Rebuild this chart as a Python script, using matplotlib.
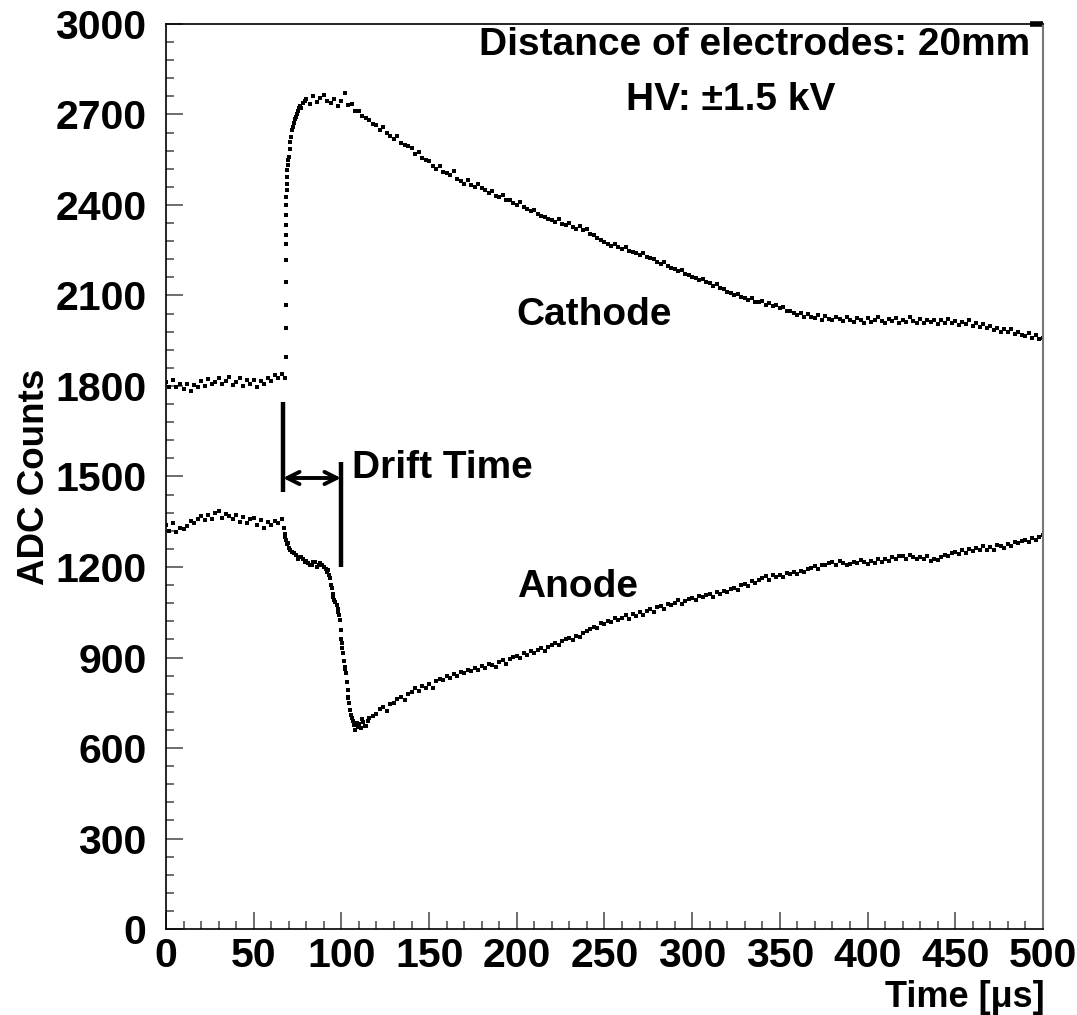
import numpy as np
import matplotlib
matplotlib.use("Agg")
import matplotlib.pyplot as plt

plt.rcParams['font.family'] = ['Liberation Sans', 'DejaVu Sans']

# ---------------- data ----------------
# main sampling grid: every 2 us from 0 to 500
grid_t = np.arange(0, 501, 2)

cathode_v = [
    1812, 1795, 1820, 1798, 1806,  1790, 1808, 1782, 1803, 1795,
    1815, 1800, 1822, 1805, 1813,  1826, 1808, 1818, 1830, 1804,
    1812, 1825, 1800, 1819, 1808,  1820, 1798, 1815, 1806, 1825,
    1818, 1835, 1828, 1840, 1826,  2560, 2648, 2690, 2722, 2738,
    2752, 2735, 2760, 2742, 2755,  2765, 2745, 2738, 2750, 2728,
    2745, 2770, 2730, 2735, 2712,  2710, 2695, 2688, 2680, 2670,
    2665, 2650, 2658, 2638, 2630,  2618, 2630, 2605, 2600, 2595,
    2590, 2570, 2575, 2555, 2548,  2545, 2530, 2520, 2528, 2510,
    2505, 2498, 2512, 2485, 2480,  2470, 2482, 2465, 2460, 2468,
    2455, 2448, 2440, 2445, 2430,  2425, 2432, 2415, 2418, 2405,
    2400, 2410, 2392, 2388, 2380,  2382, 2370, 2365, 2360, 2355,
    2350, 2345, 2352, 2338, 2335,  2340, 2328, 2322, 2330, 2318,
    2320, 2305, 2300, 2290, 2285,  2278, 2270, 2265, 2272, 2260,
    2255, 2262, 2248, 2245, 2240,  2235, 2242, 2228, 2225, 2220,
    2212, 2205, 2210, 2198, 2192,  2188, 2180, 2185, 2170, 2168,
    2162, 2158, 2150, 2155, 2145,  2140, 2132, 2138, 2125, 2120,
    2112, 2108, 2100, 2105, 2095,  2092, 2085, 2090, 2080, 2078,
    2082, 2070, 2075, 2065, 2068,  2058, 2062, 2050, 2048, 2042,
    2035, 2042, 2030, 2038, 2028,  2025, 2035, 2020, 2032, 2022,
    2018, 2030, 2022, 2015, 2028,  2020, 2012, 2025, 2018, 2010,
    2025, 2012, 2020, 2030, 2015,  2010, 2022, 2015, 2025, 2008,
    2020, 2012, 2028, 2015, 2010,  2022, 2008, 2018, 2012, 2020,
    2005, 2018, 2010, 2022, 2008,  2015, 2002, 2012, 2005, 2018,
    2000, 2010, 1995, 2005, 1992,  1998, 1985, 1992, 1980, 1988,
    1978, 1990, 1972, 1980, 1968,  1965, 1975, 1958, 1968, 1955,
    1960,
]

anode_v = [
    1338, 1320, 1345, 1315, 1328,  1325, 1335, 1352, 1345, 1360,
    1370, 1355, 1372, 1360, 1378,  1385, 1362, 1375, 1368, 1360,
    1372, 1350, 1365, 1345, 1358,  1362, 1340, 1355, 1330, 1348,
    1340, 1352, 1345, 1358, 1300,  1262, 1250, 1240, 1232, 1225,
    1220, 1208, 1215, 1200, 1212,  1200, 1185, 1140, 1092, 1050,
    960, 870, 770, 700, 678,       680, 695, 672, 700, 705,
    712, 728, 735, 722, 745,       750, 762, 770, 758, 780,
    785, 798, 790, 805, 800,       812, 800, 822, 830, 825,
    840, 832, 845, 838, 852,       848, 858, 855, 865, 860,
    872, 865, 880, 875, 870,       885, 892, 880, 895, 902,
    905, 898, 915, 908, 920,       915, 925, 930, 922, 935,
    940, 948, 942, 955, 960,       965, 958, 972, 968, 980,
    988, 995, 1002, 998, 1015,     1012, 1022, 1018, 1030, 1025,
    1032, 1040, 1028, 1045, 1038,  1050, 1042, 1055, 1060, 1052,
    1068, 1072, 1062, 1078, 1075,  1082, 1090, 1078, 1088, 1095,
    1098, 1090, 1105, 1100, 1108,  1110, 1102, 1118, 1112, 1120,
    1118, 1128, 1132, 1125, 1140,  1145, 1138, 1152, 1148, 1158,
    1165, 1170, 1158, 1172, 1168,  1175, 1168, 1180, 1176, 1182,
    1178, 1188, 1185, 1192, 1198,  1202, 1195, 1208, 1205, 1212,
    1215, 1208, 1220, 1212, 1205,  1210, 1218, 1212, 1222, 1215,
    1210, 1220, 1214, 1225, 1218,  1228, 1220, 1232, 1225, 1238,
    1235, 1228, 1240, 1232, 1225,  1232, 1225, 1238, 1220, 1228,
    1222, 1232, 1240, 1235, 1248,  1250, 1242, 1255, 1248, 1260,
    1252, 1262, 1258, 1268, 1255,  1265, 1258, 1272, 1268, 1262,
    1275, 1268, 1282, 1278, 1285,  1290, 1282, 1295, 1288, 1300,
    1305,
]

# extra samples in the fast transitions
cathode_rise_t = [68.2, 68.25, 68.3, 68.35, 68.4, 68.45, 68.5, 68.55, 68.6, 68.65,
                  68.7, 68.8, 68.9, 69.0, 69.2, 69.4, 69.7, 70.5, 71.0, 71.5,
                  72.5, 73.0, 73.5, 74.5, 75.0, 76.5, 77.0, 79.0]
cathode_rise_v = [1897, 1991, 2068, 2146, 2217, 2269, 2302, 2335, 2366, 2400,
                  2427, 2449, 2471, 2493, 2516, 2532, 2550, 2585, 2610, 2625,
                  2660, 2672, 2685, 2700, 2712, 2728, 2720, 2745]

anode_drop_t = [67.5, 68.0, 68.5, 69.0, 69.5, 71.0, 73.0, 75.0, 77.0, 79.0,
                81.0, 83.0, 85.0, 87.0, 89.0, 91.0, 92.5, 93.0, 93.5, 94.5,
                95.0, 95.5, 96.5, 97.3, 98.0, 98.5, 99.2, 99.7, 100.2, 100.6,
                101.1, 101.6, 102.1, 102.6, 103.1, 103.6, 104.0, 104.3, 104.8, 105.3,
                105.9, 106.5, 107.0, 107.5, 108.7, 109.5, 111.0, 112.5, 113.5, 115.0]
anode_drop_v = [1330, 1310, 1290, 1275, 1280, 1255, 1245, 1228, 1232, 1218,
                1212, 1205, 1215, 1205, 1208, 1195, 1190, 1175, 1162, 1130,
                1110, 1100, 1085, 1074, 1060, 1040, 1024, 990, 947, 930,
                914, 890, 862, 847, 820, 792, 765, 748, 725, 710,
                698, 690, 675, 660, 682, 670, 665, 687, 672, 690]

# annotation positions (data units)
drift_start, drift_end = 66.7, 99.8
line1_range = (1448, 1747)
line2_range = (1200, 1548)
arrow_y = 1495

# ---------------- figure ----------------
fig = plt.figure(figsize=(10.77, 10.15), dpi=100)
ax = fig.add_axes([0.1541, 0.0847, 0.8143, 0.8917])

ms = 2.8
for tt, vv in [(grid_t, cathode_v), (cathode_rise_t, cathode_rise_v),
               (grid_t, anode_v), (anode_drop_t, anode_drop_v)]:
    ax.plot(tt, vv, 's', color='black', markersize=ms, markeredgewidth=0)

ax.set_xlim(0, 500)
ax.set_ylim(0, 3000)

ax.set_xticks(np.arange(0, 501, 50))
ax.set_xticks(np.arange(0, 501, 10), minor=True)
ax.set_yticks(np.arange(0, 3001, 300))
ax.set_yticks(np.arange(0, 3001, 60), minor=True)

ax.tick_params(axis='both', which='major', direction='in', length=12, width=1.2,
               color='#555555', labelsize=29.5)
ax.tick_params(axis='both', which='minor', direction='in', length=6, width=1.2,
               color='#555555')
ax.tick_params(axis='x', which='major', pad=6)
ax.tick_params(axis='y', which='major', pad=14)
for lab in ax.get_xticklabels() + ax.get_yticklabels():
    lab.set_fontweight('bold')

for s in ['left', 'bottom', 'top']:
    ax.spines[s].set_color('black')
    ax.spines[s].set_linewidth(1.2)
ax.spines['right'].set_color('#777777')
ax.spines['right'].set_linewidth(1.5)

ax.set_ylabel('ADC Counts', fontsize=26.5, fontweight='bold')
ax.yaxis.set_label_coords(-0.130, 0.5)
ax.set_xlabel('Time [μs]', fontsize=26, fontweight='bold')
ax.xaxis.set_label_coords(1.002, -0.0857)
ax.xaxis.label.set_horizontalalignment('right')
ax.xaxis.label.set_verticalalignment('baseline')

# small dash at the top-right corner
ax.plot([0.985, 1.0], [1.0, 1.0], transform=ax.transAxes, color='black', lw=4,
        clip_on=False, solid_capstyle='butt')

# drift-time markers
ax.plot([drift_start, drift_start], line1_range, color='black', lw=3.2, solid_capstyle='butt')
ax.plot([drift_end, drift_end], line2_range, color='black', lw=3.2, solid_capstyle='butt')
ax.annotate('', xy=(drift_start, arrow_y), xytext=(drift_end, arrow_y),
            arrowprops=dict(arrowstyle='<->', color='black', lw=2.8,
                            mutation_scale=22, shrinkA=0, shrinkB=0))

txt = dict(fontsize=28, fontweight='bold', color='black')
ax.text(106, 1528, 'Drift Time', ha='left', va='center', **txt)
ax.text(200, 2035, 'Cathode', ha='left', va='center', **txt)
ax.text(200, 1133, 'Anode', ha='left', va='center', **txt)
ax.text(492.5, 2930, 'Distance of electrodes: 20mm', ha='right', va='center', **txt)
ax.text(322, 2748, 'HV: ±1.5 kV', ha='center', va='center', **txt)

fig.savefig('out.png', dpi=100)
